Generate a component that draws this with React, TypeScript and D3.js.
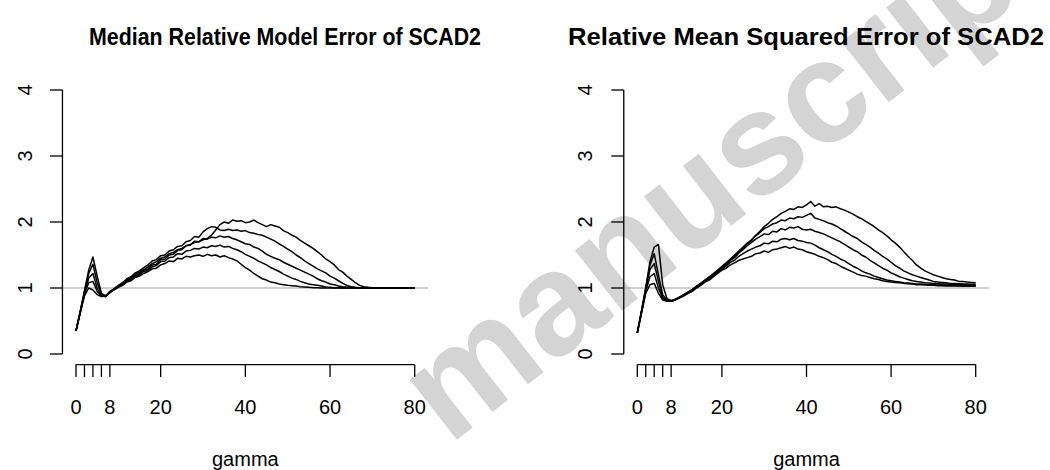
import React from "react";
import * as d3 from "d3";

const gamma = [0,1,2,3,4,5,6,7,8,9,10,11,12,13,14,15,16,17,18,19,20,21,22,23,24,25,26,27,28,29,30,31,32,33,34,35,36,37,38,39,40,41,42,43,44,45,46,47,48,49,50,51,52,53,54,55,56,57,58,59,60,61,62,63,64,65,66,67,68,69,70,71,72,73,74,75,76,77,78,79,80];

const xTicks = [0, 2, 4, 6, 8, 20, 40, 60, 80];
const xTickLabels = ["0", "", "", "", "8", "20", "40", "60", "80"];
const yTicks = [0, 1, 2, 3, 4];

const titles = ["Median Relative Model Error of SCAD2", "Relative Mean Squared Error of SCAD2"];
const xLabel = "gamma";
const watermark = "manuscript";

// Left panel: median relative model error (five curves)
const mrmeA = [0.35,0.62,0.88,1.00,0.97,0.90,0.87,0.88,0.93,0.97,1.01,1.04,1.09,1.11,1.16,1.18,1.22,1.25,1.29,1.30,1.35,1.37,1.41,1.40,1.45,1.44,1.48,1.47,1.49,1.50,1.48,1.51,1.49,1.50,1.47,1.49,1.46,1.44,1.41,1.36,1.31,1.27,1.22,1.18,1.14,1.12,1.09,1.08,1.06,1.05,1.04,1.035,1.03,1.02,1.015,1.01,1.005,1.003,1,1,1,1,1,1,1,1,1,1,1,1,1,1,1,1,1,1,1,1,1,1,1];
const mrmeB = [0.35,0.63,0.90,1.08,1.10,0.95,0.88,0.87,0.93,0.98,1.02,1.05,1.10,1.13,1.17,1.20,1.25,1.27,1.32,1.34,1.40,1.41,1.46,1.47,1.52,1.51,1.56,1.57,1.60,1.59,1.62,1.61,1.64,1.63,1.65,1.62,1.63,1.60,1.58,1.55,1.51,1.48,1.45,1.41,1.38,1.35,1.31,1.28,1.25,1.21,1.18,1.15,1.13,1.10,1.08,1.06,1.05,1.04,1.03,1.015,1.01,1.005,1.002,1,1,1,1,1,1,1,1,1,1,1,1,1,1,1,1,1,1];
const mrmeC = [0.35,0.63,0.92,1.15,1.22,1.00,0.88,0.87,0.94,0.98,1.03,1.06,1.12,1.14,1.19,1.22,1.27,1.29,1.35,1.36,1.43,1.44,1.50,1.51,1.57,1.58,1.64,1.65,1.71,1.70,1.75,1.74,1.77,1.76,1.79,1.77,1.78,1.75,1.73,1.70,1.67,1.66,1.62,1.60,1.56,1.51,1.48,1.45,1.43,1.39,1.36,1.33,1.30,1.27,1.24,1.21,1.18,1.14,1.11,1.09,1.06,1.05,1.03,1.02,1.015,1.01,1.005,1.002,1,1,1,1,1,1,1,1,1,1,1,1,1];
const mrmeD = [0.35,0.64,0.94,1.22,1.36,1.08,0.90,0.88,0.95,0.99,1.04,1.08,1.14,1.17,1.23,1.26,1.31,1.35,1.41,1.43,1.49,1.50,1.56,1.58,1.63,1.64,1.70,1.72,1.78,1.77,1.85,1.90,1.93,1.92,1.88,1.87,1.89,1.87,1.88,1.86,1.87,1.84,1.83,1.81,1.80,1.77,1.74,1.71,1.67,1.63,1.59,1.55,1.50,1.46,1.41,1.37,1.33,1.29,1.26,1.23,1.18,1.15,1.11,1.07,1.04,1.02,1.01,1.005,1.002,1,1,1,1,1,1,1,1,1,1,1,1];
const mrmeE = [0.35,0.65,0.96,1.27,1.47,1.18,0.92,0.88,0.94,0.98,1.03,1.07,1.12,1.16,1.21,1.24,1.28,1.32,1.37,1.40,1.45,1.47,1.52,1.54,1.58,1.60,1.64,1.66,1.69,1.70,1.73,1.75,1.80,1.88,1.96,2.00,1.98,2.03,2.01,2.02,1.99,2.00,2.03,1.99,1.96,1.93,1.96,1.94,1.92,1.87,1.84,1.80,1.77,1.72,1.68,1.64,1.60,1.55,1.50,1.44,1.40,1.35,1.28,1.24,1.18,1.13,1.08,1.04,1.02,1.01,1.005,1.002,1,1,1,1,1,1,1,1,1];

// Right panel: relative mean squared error (five curves)
const rmseA = [0.32,0.62,0.92,1.05,1.07,0.92,0.82,0.80,0.80,0.82,0.85,0.88,0.92,0.95,1.00,1.04,1.09,1.12,1.17,1.22,1.27,1.30,1.35,1.38,1.42,1.44,1.46,1.48,1.52,1.53,1.56,1.54,1.58,1.59,1.61,1.63,1.60,1.62,1.59,1.58,1.55,1.53,1.51,1.48,1.46,1.43,1.39,1.37,1.33,1.30,1.27,1.24,1.21,1.19,1.18,1.16,1.14,1.13,1.11,1.10,1.09,1.085,1.08,1.07,1.065,1.06,1.05,1.05,1.045,1.04,1.04,1.035,1.035,1.03,1.03,1.03,1.03,1.025,1.03,1.025,1.025];
const rmseB = [0.32,0.63,0.95,1.17,1.22,1.00,0.84,0.80,0.80,0.82,0.85,0.89,0.92,0.96,1.01,1.05,1.10,1.14,1.19,1.24,1.29,1.33,1.39,1.42,1.48,1.52,1.56,1.59,1.62,1.64,1.68,1.67,1.71,1.70,1.74,1.75,1.73,1.75,1.72,1.71,1.69,1.68,1.65,1.61,1.58,1.55,1.51,1.48,1.44,1.41,1.37,1.33,1.30,1.26,1.23,1.21,1.18,1.16,1.14,1.12,1.11,1.10,1.09,1.08,1.075,1.07,1.06,1.06,1.055,1.05,1.05,1.045,1.045,1.04,1.04,1.04,1.035,1.04,1.035,1.035,1.035];
const rmseC = [0.32,0.64,0.97,1.28,1.37,1.10,0.86,0.81,0.80,0.82,0.86,0.89,0.93,0.97,1.02,1.06,1.11,1.15,1.20,1.25,1.31,1.35,1.42,1.46,1.53,1.58,1.64,1.69,1.74,1.78,1.82,1.81,1.86,1.85,1.90,1.88,1.92,1.91,1.93,1.89,1.88,1.89,1.86,1.84,1.82,1.79,1.76,1.73,1.70,1.66,1.62,1.58,1.55,1.50,1.47,1.42,1.38,1.34,1.30,1.27,1.23,1.20,1.17,1.15,1.13,1.11,1.10,1.09,1.08,1.075,1.07,1.065,1.06,1.06,1.055,1.055,1.05,1.05,1.05,1.045,1.045];
const rmseD = [0.32,0.65,0.99,1.35,1.52,1.20,0.90,0.82,0.80,0.83,0.86,0.90,0.93,0.97,1.02,1.07,1.12,1.16,1.21,1.26,1.32,1.37,1.43,1.48,1.55,1.60,1.67,1.72,1.79,1.84,1.90,1.93,1.97,1.99,2.03,2.02,2.06,2.05,2.08,2.07,2.10,2.13,2.06,2.04,2.02,1.99,1.97,1.94,1.90,1.86,1.82,1.78,1.75,1.70,1.66,1.62,1.57,1.53,1.48,1.44,1.39,1.34,1.30,1.26,1.23,1.20,1.18,1.16,1.14,1.12,1.10,1.09,1.085,1.08,1.07,1.07,1.065,1.06,1.06,1.055,1.055];
const rmseE = [0.32,0.66,1.01,1.40,1.62,1.66,1.05,0.84,0.81,0.83,0.86,0.90,0.94,0.98,1.03,1.07,1.12,1.17,1.22,1.27,1.33,1.38,1.44,1.50,1.56,1.62,1.68,1.73,1.80,1.86,1.93,1.98,2.04,2.08,2.13,2.16,2.20,2.19,2.23,2.22,2.26,2.31,2.24,2.28,2.23,2.24,2.22,2.23,2.20,2.18,2.15,2.12,2.08,2.05,2.01,1.97,1.93,1.88,1.84,1.79,1.73,1.68,1.62,1.55,1.48,1.42,1.35,1.30,1.26,1.23,1.20,1.18,1.16,1.14,1.13,1.12,1.10,1.10,1.09,1.085,1.08];

const leftSeries = [mrmeA, mrmeB, mrmeC, mrmeD, mrmeE];
const rightSeries = [rmseA, rmseB, rmseC, rmseD, rmseE];

const FONT = "Liberation Sans, Arial, Helvetica, sans-serif";

type PanelProps = {
  series: number[][];
  title: string;
  left: number;
  right: number;
  yLabelX: number;
  titleX: number;
  titleLen: number;
};

function Panel({ series, title, left, right, yLabelX, titleX, titleLen }: PanelProps) {
  const x = d3.scaleLinear().domain([0, 80]).range([left, right]);
  const y = d3.scaleLinear().domain([0, 4]).range([354, 90]);
  const [xd0, xd1] = [-3.2, 83.2];
  const yAxisX = x(xd0);
  const xAxisY = y(-0.16);
  const line = d3
    .line<number>()
    .x((_, i) => x(gamma[i]))
    .y((d) => y(d));
  const tick = 12.5;
  return (
    <g>
      <text
        x={titleX}
        y={45}
        textAnchor="start"
        fontFamily={FONT}
        fontWeight="bold"
        fontSize={24}
        textLength={titleLen}
        lengthAdjust="spacingAndGlyphs"
      >
        {title}
      </text>
      <line x1={x(xd0)} x2={x(xd1)} y1={y(1)} y2={y(1)} stroke="#bebebe" strokeWidth={1.3} />
      {series.map((s, i) => (
        <path key={i} d={line(s) || ""} fill="none" stroke="#000" strokeWidth={1.5} strokeLinejoin="round" />
      ))}
      <line x1={yAxisX} x2={yAxisX} y1={y(0)} y2={y(4)} stroke="#000" strokeWidth={1.3} />
      {yTicks.map((t) => (
        <g key={t}>
          <line x1={yAxisX - tick} x2={yAxisX} y1={y(t)} y2={y(t)} stroke="#000" strokeWidth={1.3} />
          <text
            transform={`translate(${yLabelX},${y(t)}) rotate(-90)`}
            textAnchor="middle"
            fontFamily={FONT}
            fontSize={20}
          >
            {t}
          </text>
        </g>
      ))}
      <line x1={x(0)} x2={x(80)} y1={xAxisY} y2={xAxisY} stroke="#000" strokeWidth={1.3} />
      {xTicks.map((t, i) => (
        <g key={t}>
          <line x1={x(t)} x2={x(t)} y1={xAxisY} y2={xAxisY + tick} stroke="#000" strokeWidth={1.3} />
          <text x={x(t)} y={414} textAnchor="middle" fontFamily={FONT} fontSize={20}>
            {xTickLabels[i]}
          </text>
        </g>
      ))}
      <text x={(x(0) + x(80)) / 2} y={466} textAnchor="middle" fontFamily={FONT} fontSize={20}>
        {xLabel}
      </text>
    </g>
  );
}

export default function App() {
  return (
    <svg
      width={1050}
      height={470}
      viewBox="0 0 1050 470"
      style={{ position: "fixed", left: 0, top: 0, background: "#fff" }}
    >
      <rect width={1050} height={470} fill="#fff" />
      <text
        transform="translate(449,446) rotate(-38)"
        textAnchor="start"
        fontFamily={FONT}
        fontWeight="bold"
        fontSize={145}
        fill="#d4d4d4"
      >
        {watermark}
      </text>
      <Panel series={leftSeries} title={titles[0]} left={76} right={414.7} yLabelX={32} titleX={89} titleLen={392} />
      <Panel series={rightSeries} title={titles[1]} left={637.3} right={975.7} yLabelX={592} titleX={568} titleLen={476} />
    </svg>
  );
}
